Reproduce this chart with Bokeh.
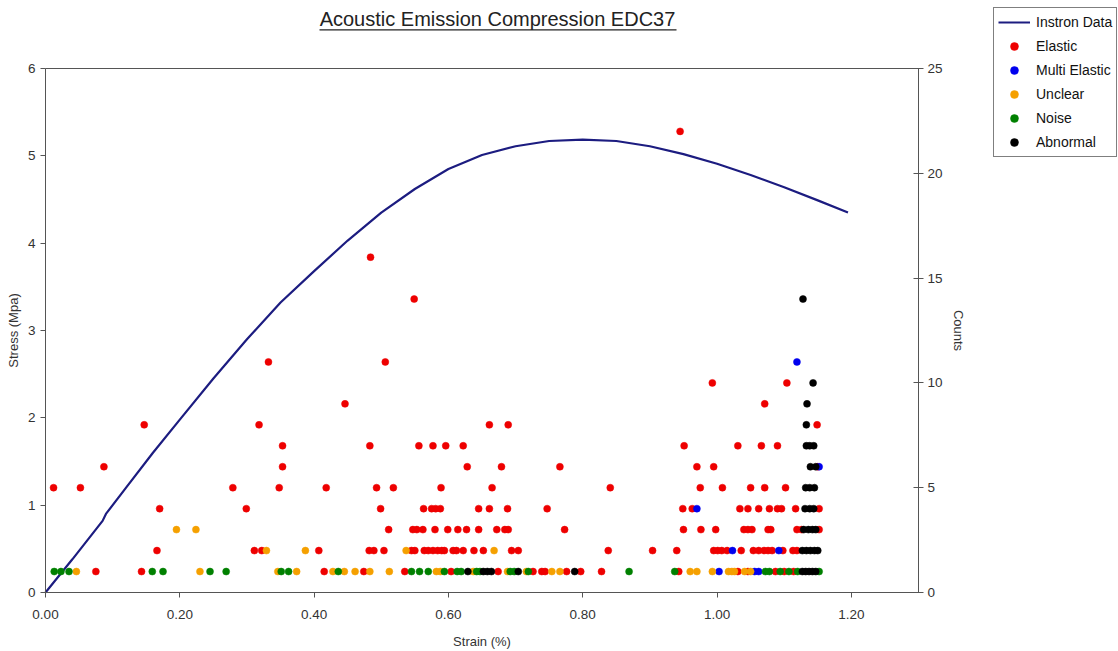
from bokeh.plotting import figure
from bokeh.models import (Range1d, LinearAxis, FixedTicker, Legend, LegendItem,
                          Label, BoxAnnotation, PrintfTickFormatter)
from bokeh.embed import file_html
from bokeh.resources import INLINE

# ---------------- data ----------------
title_text = "Acoustic Emission Compression EDC37"

# Instron stress-strain curve (strain %, stress MPa)
instron_strain = [0.0, 0.04, 0.085, 0.09, 0.12, 0.16, 0.20, 0.25, 0.30, 0.35,
                  0.40, 0.45, 0.50, 0.55, 0.60, 0.65, 0.70, 0.75, 0.80, 0.85,
                  0.90, 0.95, 1.00, 1.05, 1.10, 1.15, 1.195]
instron_stress = [0.0, 0.38, 0.82, 0.90, 1.20, 1.60, 1.98, 2.45, 2.90, 3.32,
                  3.68, 4.03, 4.35, 4.62, 4.85, 5.01, 5.11, 5.17, 5.185, 5.17,
                  5.11, 5.02, 4.91, 4.78, 4.64, 4.49, 4.35]

# AE events: (strain %, counts)
elastic = [
    (0.075, 1), (0.143, 1), (0.415, 1), (0.474, 1), (0.535, 1), (0.604, 1), (0.674, 1),
    (0.726, 1), (0.739, 1), (0.744, 1), (0.776, 1), (0.797, 1), (0.828, 1), (0.943, 1),
    (1.031, 1), (1.046, 1), (1.087, 1), (1.100, 1), (1.114, 1),
    (0.166, 2), (0.311, 2), (0.322, 2), (0.407, 2), (0.482, 2), (0.489, 2), (0.504, 2),
    (0.545, 2), (0.550, 2), (0.564, 2), (0.570, 2), (0.577, 2), (0.584, 2), (0.590, 2),
    (0.594, 2), (0.607, 2), (0.612, 2), (0.622, 2), (0.638, 2), (0.652, 2), (0.694, 2),
    (0.704, 2), (0.838, 2), (0.904, 2), (0.940, 2), (0.995, 2), (1.001, 2), (1.007, 2),
    (1.015, 2), (1.036, 2), (1.054, 2), (1.062, 2), (1.070, 2), (1.076, 2), (1.082, 2),
    (1.098, 2), (1.113, 2), (1.119, 2),
    (0.511, 3), (0.547, 3), (0.553, 3), (0.562, 3), (0.580, 3), (0.599, 3), (0.614, 3),
    (0.627, 3), (0.645, 3), (0.672, 3), (0.684, 3), (0.689, 3), (0.773, 3), (0.950, 3),
    (0.976, 3), (0.998, 3), (1.040, 3), (1.046, 3), (1.052, 3), (1.076, 3), (1.080, 3),
    (1.119, 3), (1.126, 3), (1.152, 3),
    (0.170, 4), (0.299, 4), (0.499, 4), (0.563, 4), (0.575, 4), (0.581, 4), (0.588, 4),
    (0.645, 4), (0.661, 4), (0.688, 4), (0.747, 4), (0.949, 4), (0.963, 4), (1.034, 4),
    (1.046, 4), (1.062, 4), (1.078, 4), (1.090, 4), (1.096, 4), (1.117, 4), (1.152, 4),
    (0.012, 5), (0.052, 5), (0.279, 5), (0.348, 5), (0.418, 5), (0.493, 5), (0.518, 5),
    (0.589, 5), (0.665, 5), (0.841, 5), (0.975, 5), (1.008, 5), (1.050, 5), (1.071, 5),
    (1.102, 5),
    (0.087, 6), (0.353, 6), (0.628, 6), (0.679, 6), (0.766, 6), (0.970, 6), (0.995, 6),
    (1.150, 6),
    (0.353, 7), (0.483, 7), (0.556, 7), (0.577, 7), (0.596, 7), (0.622, 7), (0.951, 7),
    (1.031, 7), (1.066, 7), (1.090, 7),
    (0.147, 8), (0.318, 8), (0.661, 8), (0.689, 8), (1.149, 8),
    (0.446, 9), (1.071, 9),
    (0.993, 10), (1.104, 10),
    (0.332, 11), (0.506, 11),
    (0.549, 14), (0.484, 16), (0.945, 22),
]
multi_elastic = [
    (1.003, 1), (1.056, 1), (1.062, 1), (1.023, 2), (1.092, 2), (0.970, 4),
    (1.152, 6), (1.119, 11),
]
unclear = [
    (0.046, 1), (0.230, 1), (0.346, 1), (0.374, 1), (0.428, 1), (0.445, 1), (0.461, 1),
    (0.483, 1), (0.512, 1), (0.582, 1), (0.588, 1), (0.637, 1), (0.688, 1), (0.716, 1),
    (0.754, 1), (0.766, 1), (0.960, 1), (0.970, 1), (0.993, 1), (1.017, 1), (1.022, 1),
    (1.026, 1), (1.041, 1), (1.050, 1),
    (0.329, 2), (0.387, 2), (0.537, 2), (0.668, 2),
    (0.195, 3), (0.224, 3),
]
noise = [
    (0.013, 1), (0.023, 1), (0.035, 1), (0.159, 1), (0.175, 1), (0.245, 1), (0.269, 1),
    (0.351, 1), (0.362, 1), (0.436, 1), (0.545, 1), (0.557, 1), (0.570, 1), (0.594, 1),
    (0.613, 1), (0.619, 1), (0.642, 1), (0.647, 1), (0.692, 1), (0.698, 1), (0.719, 1),
    (0.869, 1), (0.937, 1), (1.072, 1), (1.078, 1), (1.094, 1), (1.107, 1), (1.120, 1),
    (1.152, 1),
]
abnormal = [
    (0.629, 1), (0.652, 1), (0.658, 1), (0.664, 1), (0.704, 1), (0.788, 1),
    (1.127, 1), (1.132, 1), (1.137, 1), (1.142, 1), (1.147, 1),
    (1.127, 2), (1.133, 2), (1.139, 2), (1.145, 2), (1.150, 2),
    (1.129, 3), (1.136, 3), (1.142, 3), (1.147, 3),
    (1.131, 4), (1.138, 4), (1.144, 4),
    (1.132, 5), (1.138, 5), (1.145, 5),
    (1.139, 6), (1.147, 6),
    (1.133, 7), (1.138, 7), (1.144, 7),
    (1.133, 8), (1.134, 9), (1.143, 10), (1.128, 14),
]

x_ticks = [0.0, 0.2, 0.4, 0.6, 0.8, 1.0, 1.2]
stress_ticks = [0, 1, 2, 3, 4, 5, 6]
count_ticks = [0, 5, 10, 15, 20, 25]
X_MAX, STRESS_MAX, COUNT_MAX = 1.3, 6, 25

# ---------------- layout (pixels) ----------------
W, H = 1118, 651
AX_L, AX_R, AX_T, AX_B = 45, 918, 68, 592      # axes box in page pixels
FONT = "Liberation Sans"
TXT = "#333333"
AXC = "#555555"

# The plotting frame covers the whole canvas; the axes are placed at fixed data
# locations and bounded, so title, legend and axis texts all sit inside the frame.
px_x = (AX_R - AX_L) / X_MAX
px_s = (AX_B - AX_T) / STRESS_MAX
px_c = (AX_B - AX_T) / COUNT_MAX
x_rng = Range1d(-AX_L / px_x, (W - AX_L) / px_x)
s_rng = Range1d(-(H - AX_B) / px_s, AX_B / px_s)
c_rng = Range1d(-(H - AX_B) / px_c, AX_B / px_c)

p = figure(width=W, height=H, output_backend="svg", toolbar_location=None,
           title=None, x_axis_location=None, y_axis_location=None,
           x_range=x_rng, y_range=s_rng, min_border=0)
p.extra_y_ranges = {"counts": c_rng}
p.xgrid.visible = False
p.ygrid.visible = False
p.outline_line_color = None
p.background_fill_color = "white"
p.border_fill_color = "white"

bottom_axis = LinearAxis(axis_label="Strain (%)", fixed_location=0, bounds=(0, X_MAX),
                         ticker=FixedTicker(ticks=x_ticks),
                         formatter=PrintfTickFormatter(format="%.2f"))
p.add_layout(bottom_axis, "below")
left_axis = LinearAxis(axis_label="Stress (Mpa)", fixed_location=0,
                       bounds=(0, STRESS_MAX), ticker=FixedTicker(ticks=stress_ticks))
p.add_layout(left_axis, "left")
right_axis = LinearAxis(y_range_name="counts", axis_label="Counts",
                        fixed_location=X_MAX, bounds=(0, COUNT_MAX),
                        ticker=FixedTicker(ticks=count_ticks))
p.add_layout(right_axis, "right")
top_axis = LinearAxis(fixed_location=STRESS_MAX, bounds=(0, X_MAX),
                      ticker=FixedTicker(ticks=[]))
p.add_layout(top_axis, "above")

for ax in [bottom_axis, left_axis, right_axis, top_axis]:
    ax.axis_line_color = AXC
    ax.major_tick_line_color = AXC
    ax.minor_tick_line_color = None
    ax.major_tick_out = 5
    ax.major_tick_in = 0
    ax.major_label_text_font = FONT
    ax.major_label_text_font_size = "13.5px"
    ax.major_label_text_color = TXT
    ax.axis_label_text_font = FONT
    ax.axis_label_text_font_size = "13px"
    ax.axis_label_text_font_style = "normal"
    ax.axis_label_text_color = TXT
right_axis.major_tick_in = 5
top_axis.major_tick_out = 0
bottom_axis.major_label_standoff = 12
bottom_axis.axis_label_standoff = 12
left_axis.major_label_standoff = 5
left_axis.axis_label_standoff = 4
right_axis.major_label_standoff = 4
right_axis.axis_label_standoff = 5

line_r = p.line(instron_strain, instron_stress, line_color="#1c1c80", line_width=2.2)

series = [("Elastic", elastic, "#ee0000"),
          ("Multi Elastic", multi_elastic, "#0000ee"),
          ("Unclear", unclear, "#f5a000"),
          ("Noise", noise, "#008000"),
          ("Abnormal", abnormal, "#000000")]
items = [LegendItem(label="Instron Data", renderers=[line_r])]
for name, pts, col in series:
    xs = [a for a, b in pts]
    ys = [b for a, b in pts]
    r = p.scatter(xs, ys, size=7, fill_color=col, line_color=col, line_width=0.5,
                  y_range_name="counts")
    items.append(LegendItem(label=name, renderers=[r]))

# legend box: left 993, top 9, bottom 157 (page px); frame origin = canvas bottom-left
legend = Legend(items=items, location=(993, H - 157), margin=0, padding=4,
                spacing=4, glyph_width=32, glyph_height=20, label_height=20,
                label_standoff=6, label_text_font=FONT, label_text_font_size="14px",
                label_text_color="#111111", border_line_color="#000000",
                border_line_width=1, background_fill_color="white",
                background_fill_alpha=1)
p.add_layout(legend)

# title (centre x 497, middle y 18) with underline at y 29.3
title = Label(x=497, y=H - 18, x_units="screen", y_units="screen",
              text=title_text, text_align="center", text_baseline="middle",
              text_font=FONT, text_font_size="20px", text_color="#222222")
p.add_layout(title)
underline = BoxAnnotation(left=319, right=676, bottom=H - 30, top=H - 28.7,
                          left_units="screen", right_units="screen",
                          top_units="screen", bottom_units="screen",
                          fill_color="#222222", fill_alpha=1, line_color=None)
p.add_layout(underline)

open("out.html", "w").write(file_html(p, INLINE))
